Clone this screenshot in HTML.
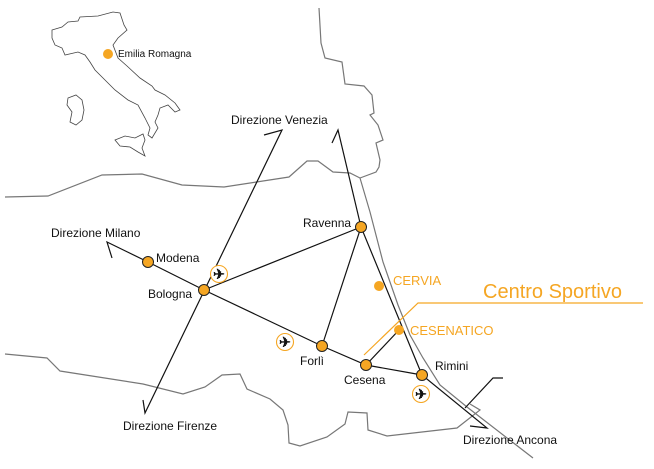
<!DOCTYPE html>
<html><head><meta charset="utf-8"><style>
body{margin:0;background:#fff;}
svg{display:block}
text{font-family:"Liberation Sans",sans-serif;}
</style></head><body>
<svg width="654" height="469" viewBox="0 0 654 469" xmlns="http://www.w3.org/2000/svg">
<g fill="none" stroke="#777" stroke-width="1.2">
<path d="M319,8 L321,43 L325,58 L342,62 L345,84 L364,86 L372,95 L374,113 L370,115 L378,125 L383,140 L376,143 L380,160 L379,167 L376,172 L360,178"/>
<path d="M5,197 L48,196 L102,175 L142,174 L182,185 L224,187 L289,177 L307,161 L318,161 L333,172 L350,173 L360,178"/>
<path d="M360,178 L370,212 L383,262 L398,305 L410,335 L423,358 L440,385 L467,407 L533,458"/>
<path d="M5,354 L47,358 L60,371 L143,384 L183,394 L205,387 L222,375 L240,374 L247,389 L270,399 L283,410 L288,425 L289,443 L300,446 L327,437 L345,424 L348,412 L367,413 L368,430 L387,436 L457,428 L480,410 L470,404"/>
</g>
<g fill="none" stroke="#444" stroke-width="0.8">
<path d="M52,30 L62,27 L68,22 L78,21 L80,17 L98,16 L113,12 L120,13 L124,25 L127,30 L118,38 L113,45 L118,58 L127,66 L140,78 L152,86 L155,90 L165,95 L175,103 L180,110 L175,112 L168,105 L160,108 L158,115 L155,122 L158,128 L152,138 L148,135 L150,128 L145,118 L138,105 L128,100 L115,90 L103,78 L95,70 L90,62 L85,55 L78,52 L65,55 L62,48 L55,45 L52,38 Z"/>
<path d="M68,98 L76,95 L82,100 L84,110 L82,120 L76,125 L70,122 L72,112 L67,105 Z"/>
<path d="M115,140 L125,136 L135,138 L143,134 L145,140 L142,148 L145,156 L138,152 L130,147 L120,146 Z"/>
</g>
<g fill="none" stroke="#111" stroke-width="1.2">
<path d="M143,400 L145,413 L282,130 L264,135"/>
<path d="M112,258 L107,242 L148,262 L204,290 L322,346 L366,365 L422,375 L487,428 L470,426"/>
<path d="M204,290 L361,227 L322,346"/>
<path d="M332,143 L338,130 L361,227 L422,375"/>
<path d="M366,365 L399,330"/>
<path d="M465,408 L493,378 L503,378"/>
</g>
<path d="M364,355 L418,303 L643,303" fill="none" stroke="#f5a623" stroke-width="1.2"/>
<g fill="#f5a623" stroke="#222" stroke-width="1">
<circle cx="148" cy="262" r="5.5"/><circle cx="204" cy="290" r="5.5"/><circle cx="361" cy="227" r="5.5"/>
<circle cx="322" cy="346" r="5.5"/><circle cx="366" cy="365" r="5.5"/><circle cx="422" cy="375" r="5.5"/>
</g>
<g fill="#f5a623"><circle cx="108" cy="54" r="5"/><circle cx="379" cy="286" r="5"/><circle cx="399" cy="330" r="5"/></g>
<g fill="#fff" stroke="#f5a623" stroke-width="1.1">
<circle cx="219" cy="274" r="8.5"/><circle cx="285" cy="342" r="8.5"/><circle cx="421" cy="394" r="8.5"/>
</g>
<g font-size="14" font-weight="bold" fill="#111" text-anchor="middle" font-family="DejaVu Sans">
<text x="219" y="279">✈</text><text x="285" y="347">✈</text><text x="421" y="399">✈</text>
</g>
<g font-size="12" fill="#111">
<text x="118" y="57" font-size="10">Emilia Romagna</text>
<text x="231" y="124">Direzione Venezia</text>
<text x="51" y="237">Direzione Milano</text>
<text x="156" y="262">Modena</text>
<text x="148" y="298">Bologna</text>
<text x="303" y="227">Ravenna</text>
<text x="300" y="365">Forlì</text>
<text x="344" y="384">Cesena</text>
<text x="435" y="370">Rimini</text>
<text x="123" y="430">Direzione Firenze</text>
<text x="463" y="444">Direzione Ancona</text>
</g>
<g fill="#f5a623">
<text x="393" y="285" font-size="13">CERVIA</text>
<text x="410" y="335" font-size="13">CESENATICO</text>
<text x="483" y="298" font-size="20">Centro Sportivo</text>
</g>
</svg>
</body></html>
